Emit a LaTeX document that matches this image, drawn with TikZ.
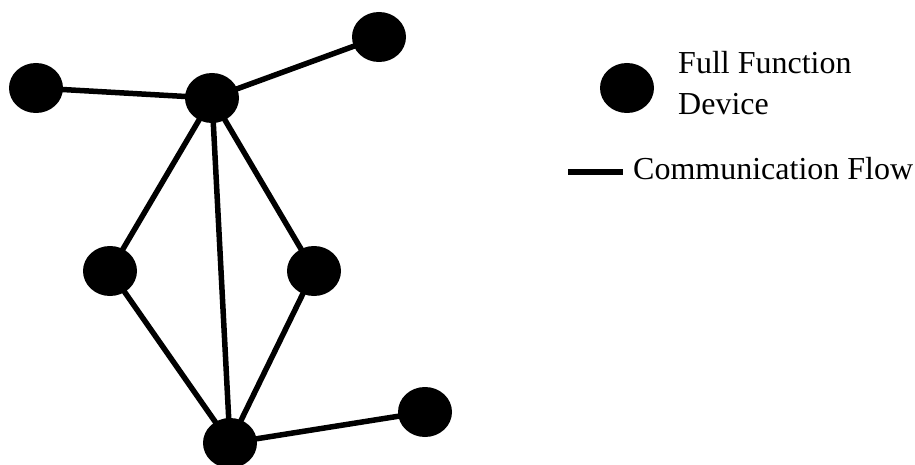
\documentclass[tikz,border=0pt]{standalone}
\usepackage{fontspec}
\setmainfont{Liberation Serif}
\usetikzlibrary{shapes.geometric,backgrounds}
\tikzset{
  dev/.style={ellipse, fill=black, draw=none, minimum width=54pt, minimum height=50pt, inner sep=0pt},
  flow/.style={line width=5.5pt, draw=black},
  lbl/.style={anchor=base west, inner sep=0pt, font=\fontsize{32}{36}\selectfont}
}
\begin{document}
\begin{tikzpicture}[x=1pt,y=-1pt]
\useasboundingbox (0,0) rectangle (915,465);
\node[dev] (hub) at (212,98) {};
\node[dev] (l) at (36,88) {};
\node[dev] (tr) at (379,37) {};
\node[dev] (lm) at (110,271) {};
\node[dev] (rm) at (314,271) {};
\node[dev] (b) at (230,443) {};
\node[dev] (br) at (425,412) {};
\begin{pgfonlayer}{background}
\draw[flow] (hub.center) -- (l.center);
\draw[flow] (hub.center) -- (tr.center);
\draw[flow] (hub.center) -- (lm.center);
\draw[flow] (hub.center) -- (rm.center);
\draw[flow] (hub.center) -- (b.center);
\draw[flow] (lm.center) -- (b.center);
\draw[flow] (rm.center) -- (b.center);
\draw[flow] (b.center) -- (br.center);
\end{pgfonlayer}
% legend
\node[dev] (ldev) at (627,88) {};
\node[lbl] (t1) at (678,74) {Full Function};
\node[lbl] (t2) at (678,115) {Device};
\coordinate (la) at (568,172);
\coordinate (lb) at (623,172);
\draw[flow] (la) -- (lb);
\node[lbl] (t3) at (633,179) {Communication Flow};
\end{tikzpicture}
\end{document}
